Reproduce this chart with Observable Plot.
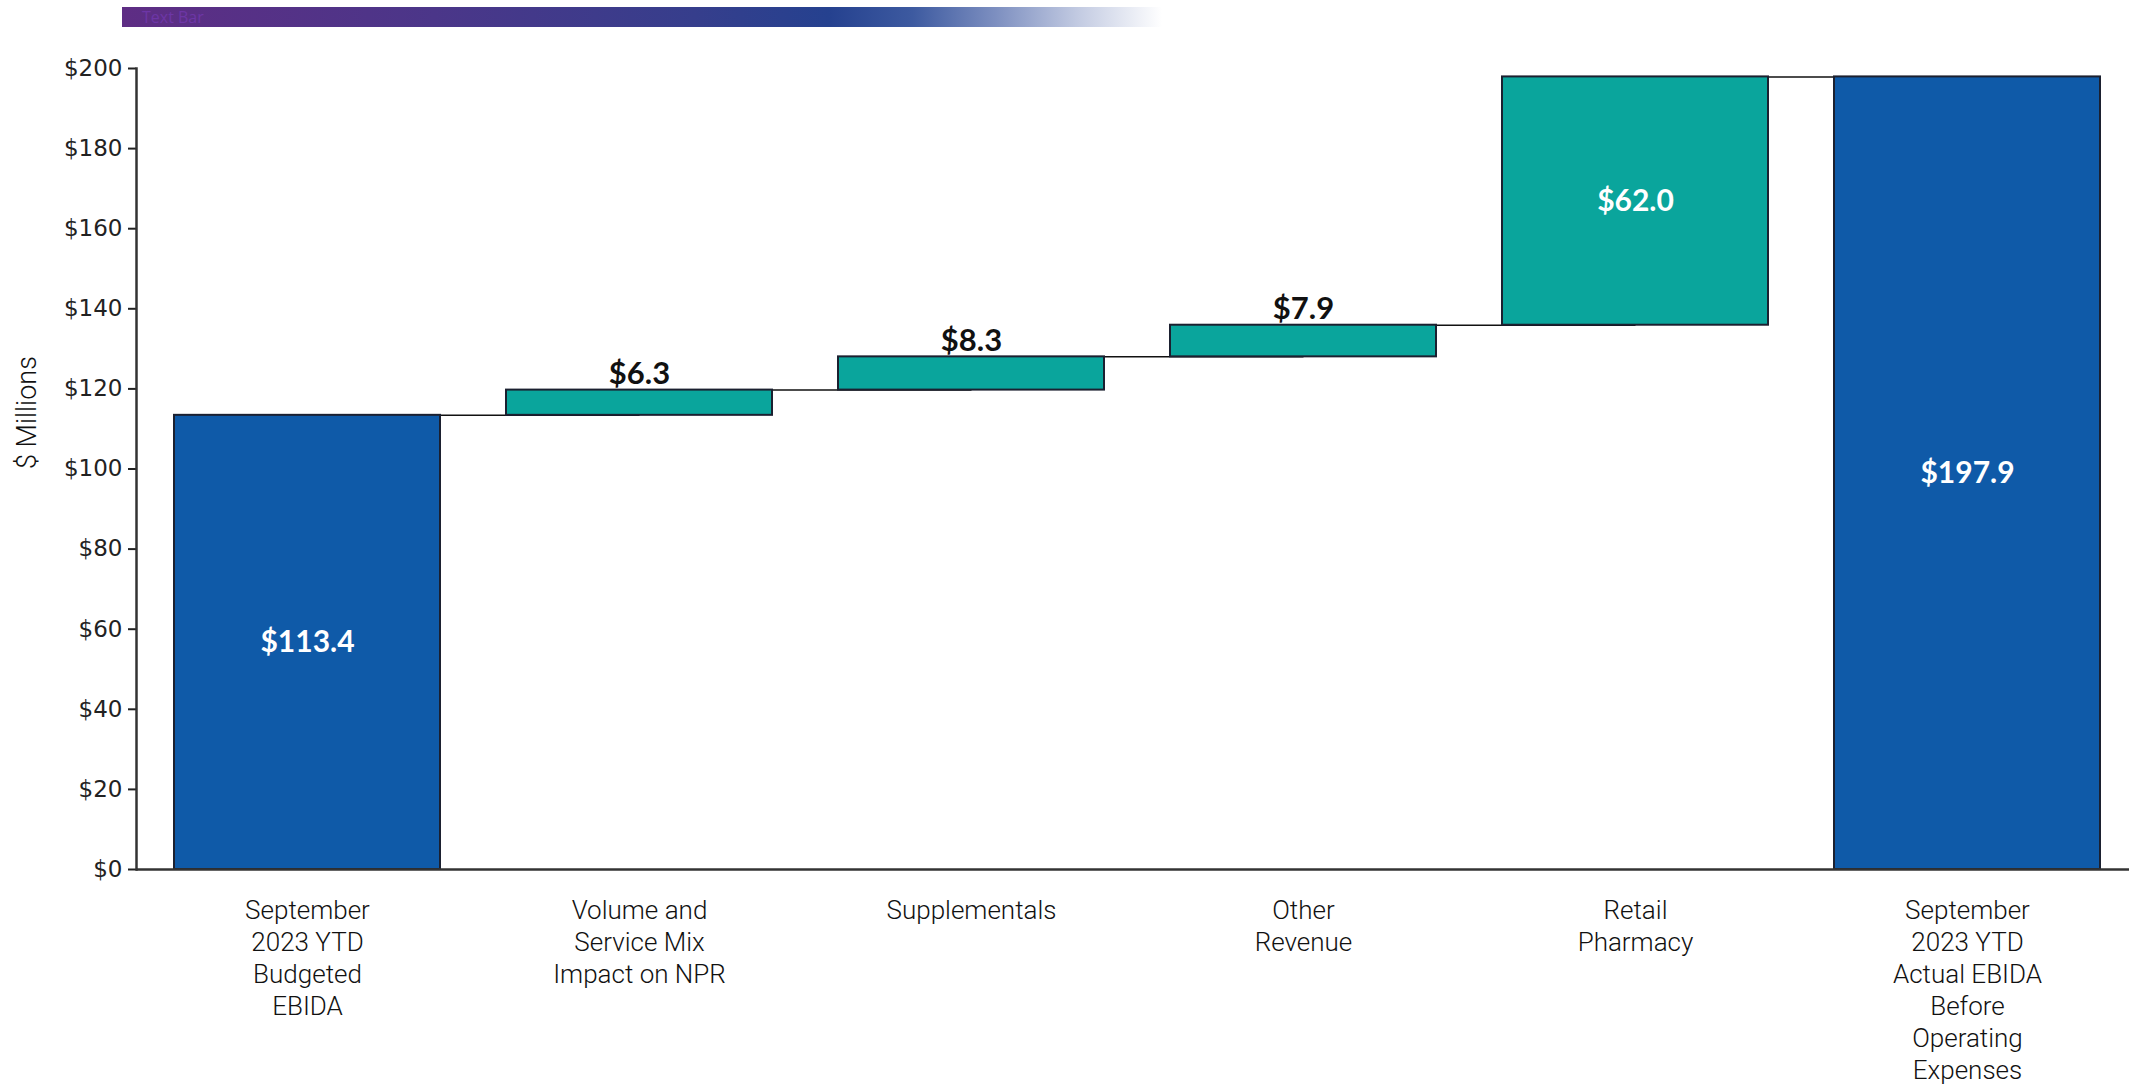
<!DOCTYPE html>
<html>
<head>
<meta charset="utf-8">
<script src="https://cdn.jsdelivr.net/npm/d3@7"></script>
<script src="https://cdn.jsdelivr.net/npm/@observablehq/plot@0.6"></script>
<style>
  html, body { margin: 0; padding: 0; background: #fff; }
  #wrap { position: relative; width: 2129px; height: 1089px; overflow: hidden; }
  #topbar {
    position: absolute; left: 122px; top: 7px; width: 1040px; height: 20px;
    background: linear-gradient(to right, #5e2d84 0%, #4b3689 30%, #363e8c 55%, #25418f 68%, #3d5aa0 76%, #7d8fc0 84%, #c3cbe2 92%, #ffffff 100%);
    font: 16px "Open Sans", sans-serif; color: #6d36a6; line-height: 20px; padding-left: 20px; box-sizing: border-box;
  }
  #chart { position: absolute; left: 0; top: 0; }
</style>
</head>
<body>
<div id="wrap">
  <div id="chart"></div>
  <div id="topbar">Text Bar</div>
</div>
<script>
const categories = [
  "September\n2023 YTD\nBudgeted\nEBIDA",
  "Volume and\nService Mix\nImpact on NPR",
  "Supplementals",
  "Other\nRevenue",
  "Retail\nPharmacy",
  "September\n2023 YTD\nActual EBIDA\nBefore\nOperating\nExpenses"
];
const values = [113.4, 6.3, 8.3, 7.9, 62.0, 197.9];
const kinds = ["total", "delta", "delta", "delta", "delta", "total"];
const valueLabels = ["$113.4", "$6.3", "$8.3", "$7.9", "$62.0", "$197.9"];
const yTicks = [0, 20, 40, 60, 80, 100, 120, 140, 160, 180, 200];
const yTickLabels = ["$0", "$20", "$40", "$60", "$80", "$100", "$120", "$140", "$160", "$180", "$200"];

let run = 0;
const rows = categories.map((cat, i) => {
  let y1, y2;
  if (kinds[i] === "total") { y1 = 0; y2 = values[i]; run = values[i]; }
  else { y1 = run; y2 = run + values[i]; run = y2; }
  return { cat, kind: kinds[i], y1, y2, label: valueLabels[i] };
});
const connectors = rows.slice(0, -1).map((r, i) => ({ x1: r.cat, x2: categories[i + 1], y: r.y2 }));

const BLUE = "#0f5aa8";
const TEAL = "#0aa59c";
const inside = d => (d.y2 - d.y1) > 20;

const chart = Plot.plot({
  width: 2129,
  height: 1089,
  marginTop: 68,
  marginBottom: 220,
  marginLeft: 136,
  marginRight: -8,
  style: { background: "transparent", color: "#222", overflow: "visible" },
  x: { domain: categories, paddingInner: 0.2, paddingOuter: 0.11, label: null },
  y: { domain: [0, 200], label: null },
  color: { domain: ["total", "delta"], range: [BLUE, TEAL] },
  marks: [
    Plot.axisY({
      ticks: yTicks,
      tickFormat: (d) => yTickLabels[yTicks.indexOf(d)],
      tickSize: 8, tickPadding: 6, fontSize: 23, fontFamily: "DejaVu Sans",
      stroke: "#222", strokeWidth: 2, label: null
    }),
    Plot.axisX({
      tickSize: 0, tickPadding: 27, fontSize: 26, lineHeight: 1.23,
      fontFamily: "Roboto, 'Open Sans', sans-serif", fontWeight: 300, fill: "#111", label: null
    }),
    Plot.link(connectors, { x1: "x1", x2: "x2", y1: "y", y2: "y", stroke: "#111", strokeWidth: 1.5 }),
    Plot.barY(rows, { x: "cat", y1: "y1", y2: "y2", fill: "kind", stroke: "#1b2030", strokeWidth: 2 }),
    Plot.ruleY([0], { stroke: "#333", strokeWidth: 2.5 }),
    Plot.frame({ anchor: "left", stroke: "#333", strokeWidth: 2.5 }),
    Plot.text(rows.filter(inside), {
      x: "cat", y: d => (d.y1 + d.y2) / 2, text: "label", fill: "white",
      fontSize: 30, fontWeight: "bold", fontFamily: "Lato, Roboto, sans-serif"
    }),
    Plot.text(rows.filter(d => !inside(d)), {
      x: "cat", y: "y2", text: "label", fill: "#111", dy: -6, lineAnchor: "bottom",
      fontSize: 31, fontWeight: "bold", fontFamily: "Lato, Roboto, sans-serif"
    }),
    Plot.text(["$ Millions"], {
      text: d => d, frameAnchor: "left", dx: -109, rotate: -90,
      fontSize: 27, fontFamily: "Roboto, 'Open Sans', sans-serif", fontWeight: 300, fill: "#111"
    })
  ]
});
document.getElementById("chart").appendChild(chart);
</script>
</body>
</html>
